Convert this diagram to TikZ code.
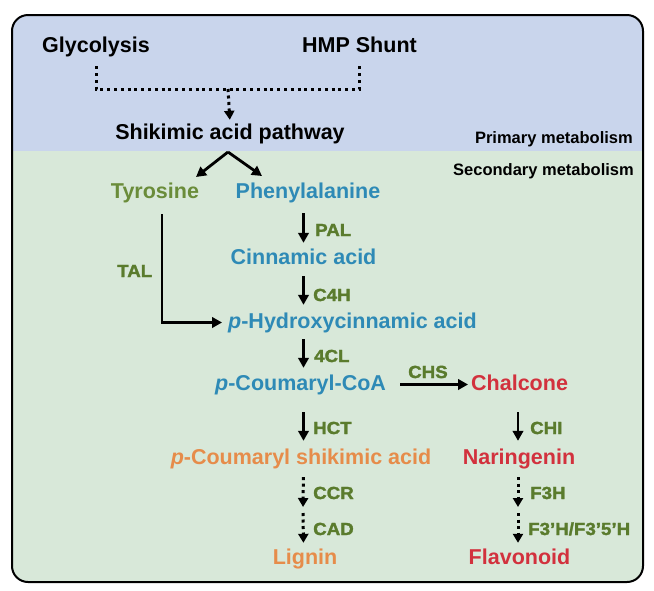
\documentclass[tikz,border=0pt]{standalone}
\usepackage{fontspec}
\setmainfont{Liberation Sans}
\newfontfamily\enzfont[FakeBold=1.8,FakeStretch=1.07]{Liberation Sans Bold}
\usetikzlibrary{arrows.meta}
\definecolor{bgblue}{HTML}{C9D5EC}
\definecolor{bggreen}{HTML}{D8E8D9}
\definecolor{enzgreen}{HTML}{5A7B2D}
\definecolor{tyrgreen}{HTML}{6A8C3A}
\definecolor{cblue}{HTML}{2E8AB6}
\definecolor{cred}{HTML}{D2313D}
\definecolor{corange}{HTML}{E68C4A}
\tikzset{
  mainlbl/.style={font=\fontsize{21.5}{26}\selectfont\bfseries, inner sep=0pt, anchor=base, text height=16pt, text depth=5pt},
  enzlbl/.style={font=\fontsize{17.5}{20}\enzfont, text=enzgreen, inner sep=0pt, anchor=base west},
  metalbl/.style={font=\fontsize{16.5}{20}\selectfont\bfseries, inner sep=0pt, anchor=base east},
  arr/.style={line width=2.8pt, -{Triangle[length=10pt,width=10.5pt]}},
  dotarr/.style={line width=3pt, dash pattern=on 3pt off 3.5pt, -{Triangle[length=9pt,width=10pt]}},
  dotline/.style={line width=3pt, dash pattern=on 3pt off 3.8pt},
}
\begin{document}
\begin{tikzpicture}[x=1pt,y=-1pt]
\useasboundingbox (0,0) rectangle (654,590);
% panels
\begin{scope}
  \clip[rounded corners=16pt] (12,15) rectangle (643,582);
  \fill[bgblue] (12,15) rectangle (643,151);
  \fill[bggreen] (12,151) rectangle (643,582);
\end{scope}
\draw[line width=2pt, rounded corners=16pt] (12,15) rectangle (643,582);

% texts
\node[mainlbl] (gly) at (96,52) {Glycolysis};
\node[mainlbl] (hmp) at (359.5,52) {HMP Shunt};
\node[mainlbl] (shik) at (230,139) {Shikimic acid pathway};
\node[metalbl] (prim) at (633,143) {Primary metabolism};
\node[metalbl] (sec) at (634,175) {Secondary metabolism};
\node[mainlbl, text=tyrgreen] (tyr) at (155,198) {Tyrosine};
\node[mainlbl, text=cblue] (phe) at (308,198) {Phenylalanine};
\node[mainlbl, text=cblue] (cin) at (303.5,264) {Cinnamic acid};
\node[mainlbl, text=cblue, anchor=base west] (hyd) at (228,328) {{\itshape p}-Hydroxycinnamic acid};
\node[mainlbl, text=cblue, anchor=base west] (coa) at (215,390) {{\itshape p}-Coumaryl-CoA};
\node[mainlbl, text=cred, anchor=base west] (chal) at (471,390) {Chalcone};
\node[mainlbl, text=corange] (shk) at (301,464) {{\itshape p}-Coumaryl shikimic acid};
\node[mainlbl, text=cred] (nar) at (519,464) {Naringenin};
\node[mainlbl, text=corange] (lig) at (305,564) {Lignin};
\node[mainlbl, text=cred] (fla) at (519.5,564) {Flavonoid};

% enzymes
\node[enzlbl] (pal) at (315,236) {PAL};
\node[enzlbl] (c4h) at (313,301) {C4H};
\node[enzlbl] (tal) at (117,277) {TAL};
\node[enzlbl] (fcl) at (314,362) {4CL};
\node[enzlbl] (chs) at (408,378) {CHS};
\node[enzlbl] (hct) at (313,434) {HCT};
\node[enzlbl] (chi) at (530,434) {CHI};
\node[enzlbl] (ccr) at (313,499) {CCR};
\node[enzlbl] (f3h) at (530,499) {F3H};
\node[enzlbl] (cad) at (313,535) {CAD};
\node[enzlbl] (f35h) at (528,535) {F3’H/F3’5’H};

% helper coordinates
\coordinate (junc) at (228,89);
\coordinate (fork) at (228,152);
\coordinate (tyrtip) at (196,177);
\coordinate (phetip) at (262,176);
\coordinate (midL) at (303,510);
\coordinate (midR) at (518,510);

% primary connectors
\draw[dotline, shorten <=9pt, shorten >=9pt] (gly.south) -- (gly.south |- junc) -| (hmp.south);
\draw[dotarr, shorten >=3pt] (junc) -- (shik.north);

% fork
\draw[arr] (fork) -- (tyrtip);
\draw[arr] (fork) -- (phetip);

% left column
\draw[arr, shorten <=10pt, shorten >=5pt] (cin.north |- phe.south) -- (cin.north);
\draw[arr, shorten <=7pt, shorten >=7pt] (cin.south) -- (cin.south |- hyd.north);
\draw[arr, shorten <=6pt, shorten >=6pt] (cin.south |- hyd.south) -- (cin.south |- coa.north);
\draw[arr, shorten <=17pt, shorten >=7pt] (cin.south |- coa.south) -- (cin.south |- shk.north);
\draw[dotarr, shorten <=8pt, shorten >=3pt] (cin.south |- shk.south) -- (midL);
\draw[dotarr, shorten <=3pt, shorten >=5pt] (midL) -- (cin.south |- lig.north);

% tyrosine branch
\draw[arr, shorten <=11pt, shorten >=6pt] ([xshift=7pt]tyr.south) |- (hyd.west);

% right column
\draw[arr, shorten <=14pt, shorten >=3pt] (coa.east) -- (chal.west);
\draw[arr, shorten <=17pt, shorten >=7pt] (midR |- chal.south) -- (midR |- nar.north);
\draw[dotarr, shorten <=8pt, shorten >=3pt] (midR |- nar.south) -- (midR);
\draw[dotarr, shorten <=3pt, shorten >=5pt] (midR) -- (midR |- fla.north);
\end{tikzpicture}
\end{document}
